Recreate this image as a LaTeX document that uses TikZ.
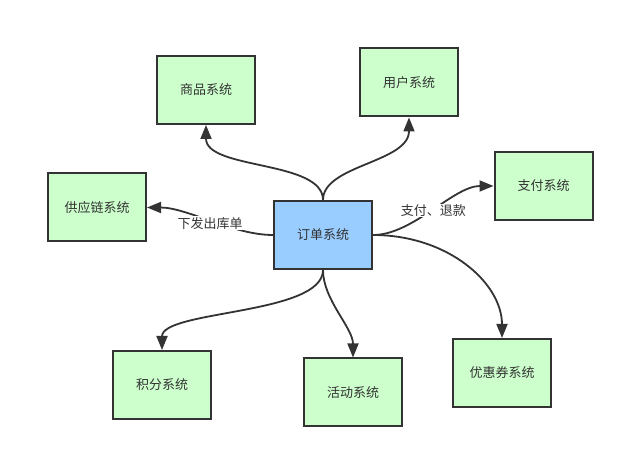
\documentclass[tikz,border=0pt]{standalone}
\usepackage{fontspec}
\newfontfamily\cjk{Noto Sans CJK SC}
\usetikzlibrary{arrows.meta,positioning}
\definecolor{edgegray}{HTML}{333333}
\definecolor{boxgreen}{HTML}{CCFFCC}
\definecolor{boxblue}{HTML}{99CCFF}

\begin{document}
\begin{tikzpicture}[x=1pt,y=1pt,on grid,
  sys/.style={rectangle,draw=edgegray,fill=boxgreen,line width=2pt,minimum width=98pt,minimum height=68pt,inner sep=0pt,font=\cjk\fontsize{13}{15}\selectfont,text=edgegray},
  flow/.style={draw=edgegray,line width=1.8pt,-{Triangle[length=14pt,width=11pt]}},
  tag/.style={fill=white,inner sep=1pt,font=\cjk\fontsize{13}{15}\selectfont,text=edgegray}]
\useasboundingbox (0,0) rectangle (626,460);
\node (order) [sys,fill=boxblue] at (323,225) {订单系统};
\node (goods) [sys,above left=145pt and 117pt of order] {商品系统};
\node (user) [sys,above right=152.5pt and 86pt of order] {用户系统};
\node (pay) [sys,above right=49pt and 220.5pt of order] {支付系统};
\node (supply) [sys,above left=27.5pt and 226pt of order] {供应链系统};
\node (points) [sys,below left=150pt and 161pt of order] {积分系统};
\node (activity) [sys,below right=157.5pt and 30pt of order] {活动系统};
\node (coupon) [sys,below right=138pt and 179pt of order] {优惠券系统};
\draw[flow] (order.north) .. controls +(0,40) and +(0,-45) .. (goods.south);
\draw[flow] (order.north) .. controls +(0,35) and +(0,-45) .. (user.south);
\draw[flow] (order.east) .. controls +(40,0) and +(-40,0) .. (pay.west) node[tag,pos=0.5] {支付、退款};
\draw[flow] (order.west) .. controls +(-40,0) and +(40,0) .. (supply.east) node[tag,pos=0.5,yshift=-2pt] {下发出库单};
\draw[flow] (order.east) .. controls +(75,0) and +(0,55) .. (coupon.north);
\draw[flow] (order.south) .. controls +(0,-45) and +(0,40) .. (points.north);
\draw[flow] (order.south) .. controls +(0,-30) and +(0,30) .. (activity.north);
\end{tikzpicture}
\end{document}
